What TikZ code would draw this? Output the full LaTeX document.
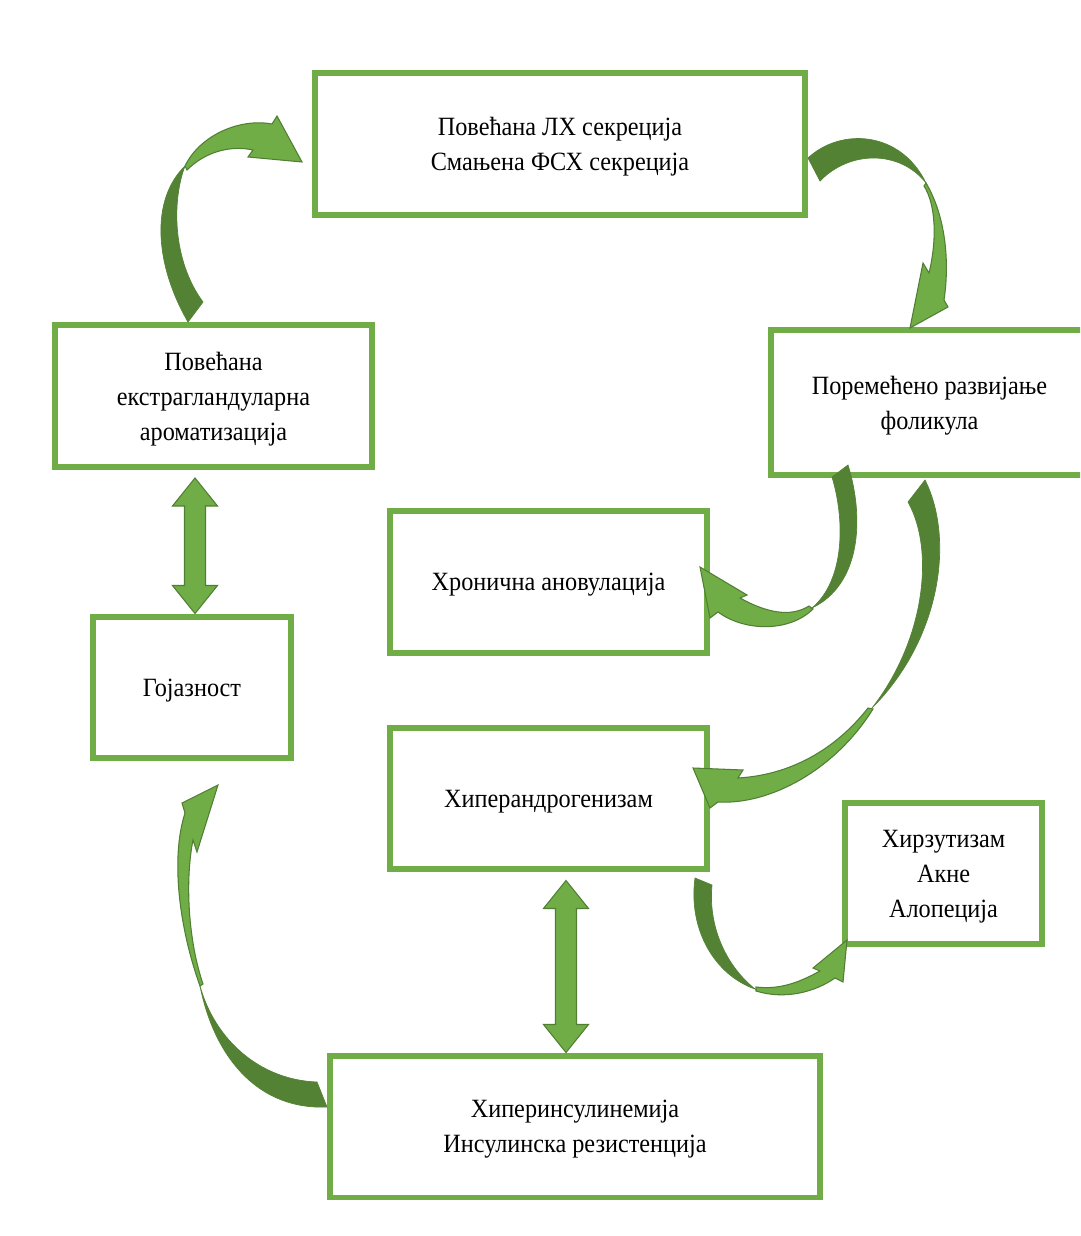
\documentclass[tikz,border=0pt]{standalone}
\usepackage{fontspec}
\setmainfont{Liberation Serif}[FakeStretch=0.92]
\usetikzlibrary{calc}
\definecolor{boxgreen}{RGB}{112,173,71}
\definecolor{backgreen}{RGB}{84,130,53}
\definecolor{edgegreen}{RGB}{80,126,50}
% straight arrow with two heads, from top tip #1 to bottom tip #2
\newcommand{\updown}[2]
{   \filldraw[front] (#1) -- ($(#1)+(22.5,28)$) -- ($(#1)+(10.5,28)$) -- ($(#2)+(10.5,-28)$)
      -- ($(#2)+(22.5,-28)$) -- (#2) -- ($(#2)+(-22.5,-28)$) -- ($(#2)+(-10.5,-28)$)
      -- ($(#1)+(-10.5,28)$) -- ($(#1)+(-22.5,28)$) -- cycle;
}

\begin{document}
\begin{tikzpicture}[x=0.02cm,y=-0.02cm,
  box/.style={draw=boxgreen,line width=0.12cm,align=center,inner sep=0pt,text depth=0pt,
    font=\fontsize{15}{19.9}\selectfont},
  wide/.style={box,minimum width=9.8cm,minimum height=2.84cm},
  mid/.style={box,minimum width=6.34cm,minimum height=2.84cm},
  narrow/.style={box,minimum width=3.95cm,minimum height=2.84cm},
  back/.style={fill=backgreen,draw=backgreen,line width=0.4pt},
  front/.style={fill=boxgreen,draw=edgegreen,line width=0.6pt}]

 \useasboundingbox (0,0) rectangle (1080,1236);
 \clip (0,0) rectangle (1080,1236);

 \node[wide] (lhfsh) at (560,144) {Повећана ЛХ секреција\\Смањена ФСХ секреција};
 \node[mid] (arom) at (213.5,396) {Повећана\\екстрагландуларна\\ароматизација};
 \node[mid,minimum height=2.9cm] (folik) at (929.5,402.5) {Поремећено развијање\\фоликула};
 \node[mid] (anov) at (548.5,582) {Хронична ановулација};
 \node[narrow] (goj) at (192,687.5) {Гојазност};
 \node[mid] (hyper) at (548.5,798.5) {Хиперандрогенизам};
 \node[narrow] (hirz) at (943.5,873.5) {Хирзутизам\\Акне\\Алопеција};
 \node[wide] (insul) at (575,1126.5) {Хиперинсулинемија\\Инсулинска резистенција};

 % straight arrows
 \coordinate (t1) at ($(arom.south)+(-18.5,8)$);
 \coordinate (b1) at (t1 |- goj.north);
 \coordinate (t2) at ($(hyper.south)+(17.5,8)$);
 \coordinate (b2) at (t2 |- insul.north);
 \updown{t1}{b1}
 \updown{t2}{b2}

 % curved arrows
 \filldraw[front] (185,166) .. controls (200,135) and (240,118) .. (272,124) -- (277,116) -- (302,162)
   -- (248,157) -- (253,150) .. controls (230,145) and (205,152) .. (187,170) -- cycle;
 \filldraw[back] (188,322) .. controls (155,265) and (150,200) .. (185,166)
   .. controls (172,200) and (172,260) .. (203,302) -- cycle;

 \filldraw[front] (926,183) .. controls (945,215) and (950,260) .. (944,300) -- (948,307) -- (910,328)
   -- (923,263) -- (929,273) .. controls (937,240) and (936,205) .. (924,186) -- cycle;
 \filldraw[back] (808,158) .. controls (840,128) and (900,130) .. (926,183)
   .. controls (900,150) and (850,150) .. (820,181) -- cycle;

 \filldraw[front] (813,609) .. controls (790,632) and (745,632) .. (718,612) -- (710,618) -- (700,567)
   -- (747,595) -- (740,598) .. controls (765,612) and (790,618) .. (809,606) -- cycle;
 \filldraw[back] (848,465) .. controls (865,520) and (860,585) .. (812,608)
   .. controls (845,580) and (845,520) .. (832,477) -- cycle;

 \filldraw[front] (873,709) .. controls (835,770) and (770,805) .. (718,802) -- (710,808) -- (693,768)
   -- (743,770) -- (738,778) .. controls (790,775) and (835,750) .. (868,708) -- cycle;
 \filldraw[back] (925,480) .. controls (955,540) and (940,640) .. (872,708)
   .. controls (925,640) and (935,550) .. (908,502) -- cycle;

 \filldraw[front] (756,991) .. controls (785,1000) and (815,992) .. (835,978) -- (843,982) -- (847,940)
   -- (813,968) -- (820,971) .. controls (800,982) and (780,990) .. (756,987) -- cycle;
 \filldraw[back] (695,878) .. controls (688,930) and (715,975) .. (755,989)
   .. controls (725,965) and (708,925) .. (712,885) -- cycle;

 \filldraw[front] (200,986) .. controls (180,930) and (170,860) .. (185,813) -- (182,803) -- (218,785)
   -- (197,852) -- (193,840) .. controls (185,880) and (188,940) .. (203,984) -- cycle;
 \filldraw[back] (327,1107) .. controls (260,1110) and (215,1060) .. (200,986)
   .. controls (215,1040) and (260,1080) .. (317,1082) -- cycle;

\end{tikzpicture}
\end{document}
